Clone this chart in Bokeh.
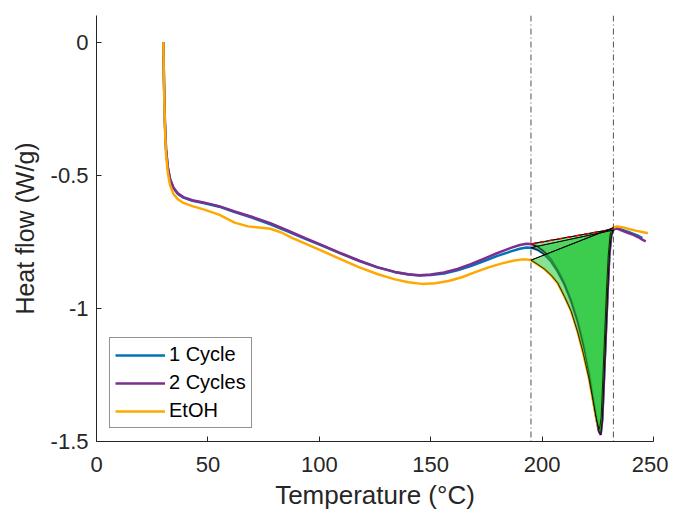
from bokeh.plotting import figure
from bokeh.models import Range1d, FixedTicker, Span, Legend, LegendItem
from bokeh.embed import file_html
from bokeh.resources import INLINE

# ---- data ----
t_blue = [30.0, 30.3, 30.7, 31.2, 32.0, 33.0, 34.5, 36.5, 39, 43, 48, 55, 62, 70, 78, 86, 94,
          102, 110, 118, 126, 134, 140, 145, 150, 156, 162, 168, 174, 180, 186, 190, 193, 195,
          198, 201, 204, 207, 210, 213, 216, 218.5, 221, 223, 224.5, 225.5, 226.3, 227, 227.8,
          228.6, 229.4, 230.2, 231, 232, 233, 235, 237, 239, 241, 243, 245]
hf_blue = [0.0, -0.15, -0.30, -0.40, -0.47, -0.515, -0.548, -0.570, -0.584, -0.596, -0.604,
           -0.618, -0.638, -0.660, -0.684, -0.712, -0.740, -0.767, -0.795, -0.822, -0.846,
           -0.864, -0.873, -0.877, -0.875, -0.869, -0.857, -0.841, -0.822, -0.803, -0.786,
           -0.776, -0.771, -0.772, -0.780, -0.797, -0.824, -0.862, -0.910, -0.972, -1.050,
           -1.135, -1.240, -1.340, -1.415, -1.455, -1.468, -1.410, -1.255, -1.095, -0.935,
           -0.795, -0.725, -0.706, -0.700, -0.702, -0.708, -0.714, -0.720, -0.727, -0.736]

t_purple = [30.0, 30.3, 30.7, 31.2, 32.0, 33.0, 34.5, 36.5, 39, 43, 48, 55, 62, 70, 78, 86, 94,
            102, 110, 118, 126, 134, 140, 145, 150, 156, 162, 168, 174, 180, 186, 190, 193, 195,
            198, 201, 204, 207, 210, 213, 216, 218.5, 221, 223, 224.5, 225.5, 226.3, 227, 227.8,
            228.6, 229.4, 230.2, 231, 232, 233, 235, 237, 239, 241, 243, 245, 246.5]
hf_purple = [0.0, -0.15, -0.30, -0.40, -0.47, -0.513, -0.546, -0.568, -0.582, -0.594, -0.602,
             -0.616, -0.636, -0.657, -0.680, -0.708, -0.737, -0.765, -0.794, -0.821, -0.845,
             -0.863, -0.872, -0.876, -0.873, -0.865, -0.852, -0.834, -0.813, -0.792, -0.773,
             -0.762, -0.757, -0.758, -0.768, -0.787, -0.815, -0.855, -0.905, -0.968, -1.048,
             -1.135, -1.242, -1.345, -1.420, -1.462, -1.475, -1.420, -1.265, -1.100, -0.940,
             -0.800, -0.728, -0.702, -0.698, -0.705, -0.712, -0.718, -0.724, -0.732, -0.742,
             -0.748]

t_etoh = [30.0, 30.3, 30.7, 31.2, 32.0, 33.0, 34.5, 36.5, 39, 43, 48, 55, 62, 68, 74, 78, 83,
          88, 94, 102, 110, 118, 126, 134, 140, 146, 152, 158, 164, 170, 176, 182, 187, 191,
          193, 195, 198, 201, 204, 207, 210, 213, 216, 218.5, 221, 222.5, 224, 225, 225.8,
          226.5, 227.3, 228.1, 228.9, 229.7, 230.5, 231.3, 232, 233.5, 236, 239, 242, 245, 247.5]
hf_etoh = [0.0, -0.17, -0.32, -0.42, -0.49, -0.537, -0.570, -0.590, -0.604, -0.616, -0.628,
           -0.648, -0.678, -0.692, -0.697, -0.701, -0.715, -0.736, -0.758, -0.787, -0.817,
           -0.846, -0.871, -0.891, -0.902, -0.908, -0.906, -0.897, -0.883, -0.864, -0.846,
           -0.831, -0.821, -0.816, -0.816, -0.819, -0.835, -0.852, -0.875, -0.905, -0.955,
           -1.010, -1.090, -1.170, -1.262, -1.330, -1.400, -1.438, -1.452, -1.410, -1.255,
           -1.095, -0.935, -0.800, -0.725, -0.702, -0.697, -0.692, -0.695, -0.702, -0.708,
           -0.713, -0.718]

onset_t = 195
endset_t = 232

series = [("1 Cycle", t_blue, hf_blue, "#0072BD"),
          ("2 Cycles", t_purple, hf_purple, "#7E2F8E"),
          ("EtOH", t_etoh, hf_etoh, "#FFA800")]

x_ticks = [0, 50, 100, 150, 200, 250]
y_ticks = [0, -0.5, -1, -1.5]
y_tick_labels = {0: "0", -0.5: "-0.5", -1: "-1", -1.5: "-1.5"}

FONT = "Liberation Sans"
INK = "#262626"

p = figure(width=668, height=512, x_range=Range1d(0, 250), y_range=Range1d(-1.5, 0.1),
           output_backend="svg", toolbar_location=None,
           min_border_left=96, min_border_right=15, min_border_top=15, min_border_bottom=71)
p.grid.visible = False
p.outline_line_color = None
p.background_fill_color = "white"

for ax in (p.xaxis[0], p.yaxis[0]):
    ax.axis_line_color = INK
    ax.axis_line_width = 1
    ax.major_tick_line_color = INK
    ax.major_tick_in = 5
    ax.major_tick_out = 0
    ax.minor_tick_line_color = None
    ax.major_label_text_font = FONT
    ax.major_label_text_font_size = "22px"
    ax.major_label_text_color = INK
    ax.axis_label_text_font = FONT
    ax.axis_label_text_font_style = "normal"
    ax.axis_label_text_color = INK

p.xaxis.ticker = FixedTicker(ticks=x_ticks)
p.yaxis.ticker = FixedTicker(ticks=y_ticks)
p.yaxis.major_label_overrides = y_tick_labels
p.xaxis.axis_label = "Temperature (°C)"
p.yaxis.axis_label = "Heat flow (W/g)"
p.xaxis.axis_label_text_font_size = "26px"
p.yaxis.axis_label_text_font_size = "25px"
p.xaxis.major_label_standoff = 15
p.yaxis.major_label_standoff = 8
p.xaxis.axis_label_standoff = 5
p.yaxis.axis_label_standoff = 9

for loc in (onset_t, endset_t):
    p.add_layout(Span(location=loc, dimension="height", line_color="#505050",
                      line_width=1, line_dash="6 3 1 3"))

items = []
for name, t, hf, col in series:
    r = p.line(t, hf, line_color=col, line_width=2.5)
    items.append(LegendItem(label=name, renderers=[r]))

# integrated peak areas between the curve and its straight baseline
for name, t, hf, col in series:
    xs = [x for x in t if onset_t <= x <= endset_t]
    ys = [y for x, y in zip(t, hf) if onset_t <= x <= endset_t]
    p.patch(xs, ys, fill_color=(40, 200, 60), fill_alpha=0.55,
            line_color="black", line_width=0.8)

for name, t, hf, col in series:
    y1 = hf[t.index(onset_t)]
    y2 = hf[t.index(endset_t)]
    p.line([onset_t, endset_t], [y1, y2], line_color="black", line_width=1)
    if name == "2 Cycles":
        p.line([onset_t, endset_t], [y1, y2], line_color="#E00000", line_width=1.5,
               line_dash="5 4")

legend = Legend(items=items, location=(13, 13))
legend.border_line_color = INK
legend.border_line_width = 1
legend.background_fill_color = "white"
legend.background_fill_alpha = 1
legend.label_text_font = FONT
legend.label_text_font_size = "20px"
legend.label_text_color = "black"
legend.glyph_width = 50
legend.glyph_height = 22
legend.label_height = 22
legend.label_standoff = 4
legend.spacing = 5
legend.padding = 5
legend.margin = 0
p.add_layout(legend)

open("out.html", "w").write(file_html(p, INLINE))
